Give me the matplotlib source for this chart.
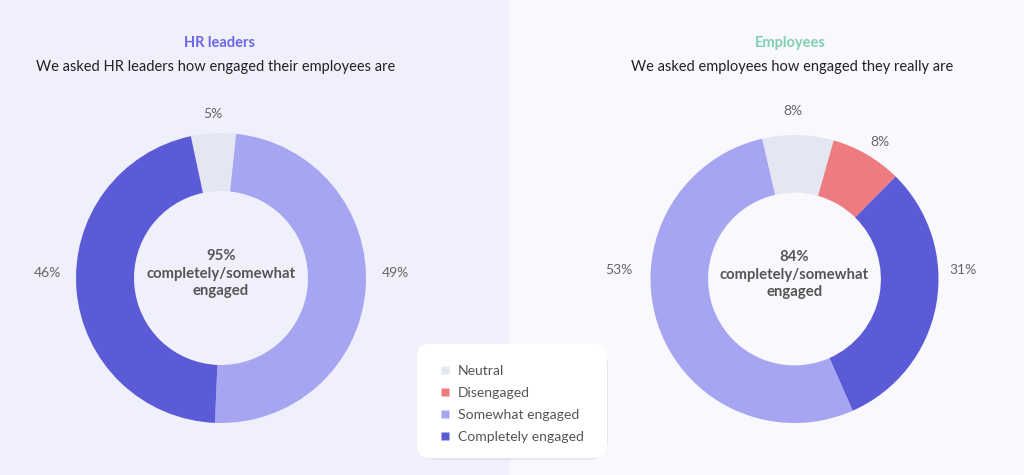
import matplotlib
matplotlib.use("Agg")
import matplotlib.pyplot as plt
from matplotlib.patches import Rectangle, FancyBboxPatch
from matplotlib.lines import Line2D
import numpy as np

plt.rcParams['font.family'] = ['Lato', 'DejaVu Sans']

# ---- data ----
categories = ["Neutral", "Disengaged", "Somewhat engaged", "Completely engaged"]
colors = {"Neutral": "#e4e6f1", "Disengaged": "#ee7b80",
          "Somewhat engaged": "#a6a5f2", "Completely engaged": "#5c5bd7"}

hr_categories = ["Neutral", "Somewhat engaged", "Completely engaged"]
hr_values = [5, 49, 46]
emp_categories = ["Neutral", "Disengaged", "Completely engaged", "Somewhat engaged"]
emp_values = [8, 8, 31, 53]

hr_center_text = "95%\ncompletely/somewhat\nengaged"
emp_center_text = "84%\ncompletely/somewhat\nengaged"

# ---- layout (label angles clockwise from top, radius factor) ----
hr_label_pos = [(-2.8, 1.13), (88.5, 1.2), (271.5, 1.2)]
emp_label_pos = [(-0.5, 1.17), (32, 1.12), (87, 1.17), (273, 1.22)]

W, H = 1024, 475
fig = plt.figure(figsize=(W / 100, H / 100), dpi=100)
fig.patch.set_facecolor("#f8f8fd")
fig.patches.append(Rectangle((0, 0), 510 / W, 1, transform=fig.transFigure,
                             facecolor="#f0f0fc", edgecolor="none", zorder=-5))


def donut(cx, cy, r, cats, vals, start_cw_from_top, label_pos, center_text):
    ax = fig.add_axes([(cx - r) / W, (H - cy - r) / H, 2 * r / W, 2 * r / H])
    ax.set_zorder(1)
    ax.pie(vals, colors=[colors[c] for c in cats], startangle=90 - start_cw_from_top,
           counterclock=False, radius=1.0,
           wedgeprops=dict(width=0.4, edgecolor="none"))
    ax.set_xlim(-1, 1)
    ax.set_ylim(-1, 1)
    ax.set_aspect("equal")
    ax.axis("off")
    for v, (ang, rf) in zip(vals, label_pos):
        a = np.deg2rad(ang)
        ax.text(rf * np.sin(a), rf * np.cos(a), f"{v}%", ha="center", va="center",
                fontsize=10, color="#666666")
    ax.text(0, 0.03, center_text, ha="center", va="center", fontsize=10.7,
            fontweight="bold", color="#555555", linespacing=1.3)
    return ax


donut(221, 278, 145, hr_categories, hr_values, -12, hr_label_pos, hr_center_text)
donut(794.5, 279, 144, emp_categories, emp_values, -13, emp_label_pos, emp_center_text)

# titles
fig.text(220 / W, 1 - 43 / H, "HR leaders", ha="center", va="center", fontsize=10.5,
         fontweight="bold", color="#6b66ea")
fig.text(216 / W, 1 - 67 / H, "We asked HR leaders how engaged their employees are",
         ha="center", va="center", fontsize=10.5, color="#222222")
fig.text(790 / W, 1 - 43 / H, "Employees", ha="center", va="center", fontsize=10.5,
         fontweight="bold", color="#7fcfb2")
fig.text(792 / W, 1 - 67 / H, "We asked employees how engaged they really are",
         ha="center", va="center", fontsize=10.5, color="#222222")

# legend box
bx0, bx1, by0, by1 = 417, 607, 344, 458
shadow = FancyBboxPatch(((bx0 + 1) / W, (H - by1 - 2) / H), (bx1 - bx0) / W, (by1 - by0) / H,
                        boxstyle="round,pad=0,rounding_size=0.02", transform=fig.transFigure,
                        facecolor="#dcdcea", edgecolor="none", alpha=0.7, zorder=1,
                        mutation_aspect=W / H)
box = FancyBboxPatch((bx0 / W, (H - by1) / H), (bx1 - bx0) / W, (by1 - by0) / H,
                     boxstyle="round,pad=0,rounding_size=0.012", transform=fig.transFigure,
                     facecolor="white", edgecolor="none", zorder=2,
                     mutation_aspect=W / H)
fig.patches.append(shadow)
fig.patches.append(box)

handles = [Line2D([], [], marker="s", linestyle="none", markersize=6,
                  markerfacecolor=colors[c], markeredgecolor="none") for c in categories]
leg = fig.legend(handles, categories, loc="upper left",
                 bbox_to_anchor=(432 / W, 1 - 358 / H), frameon=False,
                 fontsize=10.1, labelcolor="#555555", handlelength=0.8,
                 handletextpad=0.55, labelspacing=0.72, borderpad=0)
leg.set_zorder(5)

fig.savefig("out.png", dpi=100)
